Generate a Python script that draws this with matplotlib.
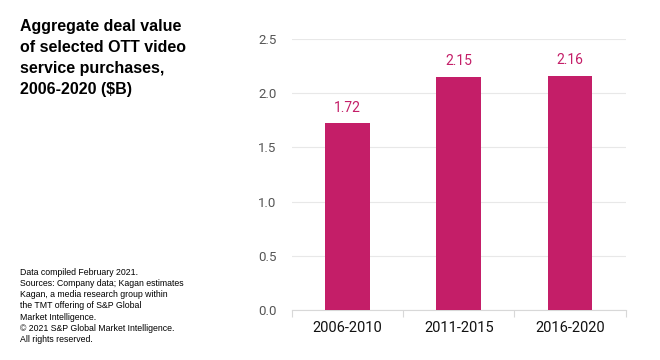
import matplotlib
matplotlib.use("Agg")
import matplotlib.pyplot as plt

# data
periods = ["2006-2010", "2011-2015", "2016-2020"]
deal_value = [1.72, 2.15, 2.16]
y_ticks = [0.0, 0.5, 1.0, 1.5, 2.0, 2.5]

BAR_COLOR = "#C41E68"

plt.rcParams["font.family"] = ["Roboto", "DejaVu Sans"]

fig = plt.figure(figsize=(6.6, 3.6), dpi=100)
ax = fig.add_axes([0.442, 0.139, 0.506, 0.753])

x = range(len(periods))
bars = ax.bar(x, deal_value, width=0.4, color=BAR_COLOR, zorder=3)
for b, v in zip(bars, deal_value):
    ax.text(b.get_x() + b.get_width() / 2, v + 0.08, "%.2f" % v,
            ha="center", va="bottom", color=BAR_COLOR, fontsize=10)

ax.set_xlim(-0.5, len(periods) - 0.5)
ax.set_ylim(0, 2.5)
ax.set_yticks(y_ticks)
ax.set_yticklabels(["%.1f" % t for t in y_ticks], color="#555555", fontsize=9.5)
ax.yaxis.grid(True, color="#e8e8e8", linewidth=0.8, zorder=0)
ax.tick_params(axis="y", length=0, pad=11)

# category ticks sit between the bars
ax.set_xticks(list(x))
ax.set_xticklabels(periods, fontsize=10.5, color="#111111")
ax.tick_params(axis="x", length=0, pad=8)
ax.set_xticks([i - 0.5 for i in range(len(periods) + 1)], minor=True)
ax.tick_params(axis="x", which="minor", length=5, color="#d8d8d8", width=0.8)

for s in ["top", "right", "left"]:
    ax.spines[s].set_visible(False)
ax.spines["bottom"].set_color("#d8d8d8")
ax.spines["bottom"].set_linewidth(0.8)

fig.text(0.03, 0.948, "Aggregate deal value\nof selected OTT video\nservice purchases,\n2006-2020 ($B)",
         ha="left", va="top", fontsize=11.5, fontweight="bold",
         family=["Liberation Sans", "DejaVu Sans"], linespacing=1.5)

fig.text(0.03, 0.255,
         "Data compiled February 2021.\n"
         "Sources: Company data; Kagan estimates\n"
         "Kagan, a media research group within\n"
         "the TMT offering of S&P Global\n"
         "Market Intelligence.\n"
         "\u00a9 2021 S&P Global Market Intelligence.\n"
         "All rights reserved.",
         ha="left", va="top", fontsize=6.3,
         family=["Liberation Sans", "DejaVu Sans"], linespacing=1.3)

fig.savefig("out.png", dpi=100)
